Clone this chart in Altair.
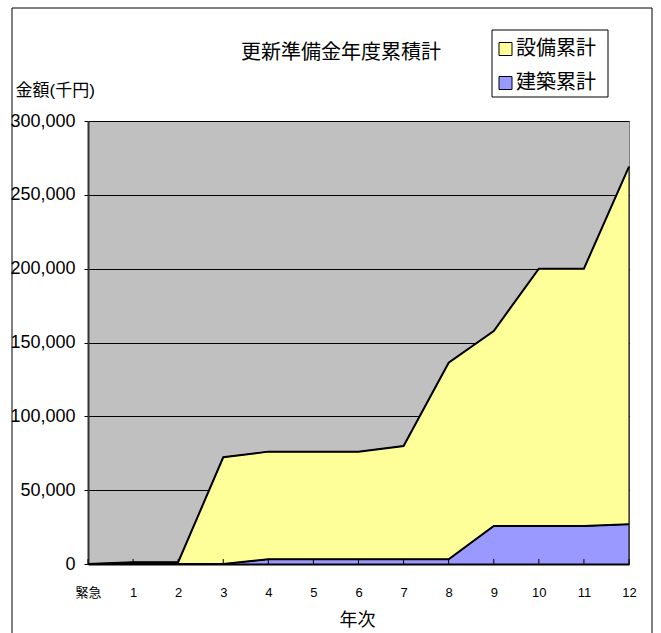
import altair as alt
import pandas as pd

# ---- data ----
categories = ["緊急", "1", "2", "3", "4", "5", "6", "7", "8", "9", "10", "11", "12"]
kenchiku = [0, 0, 0, 0, 3200, 3200, 3200, 3200, 3200, 25700, 25700, 25700, 26900]        # 建築累計
setsubi = [0, 1200, 1200, 72300, 72900, 72900, 72900, 76700, 133100, 132100, 174300, 174300, 242200]  # 設備累計
series_names = ["設備累計", "建築累計"]
series_colors = ["#FFFF99", "#9999FF"]
y_ticks = [0, 50000, 100000, 150000, 200000, 250000, 300000]
title_text = "更新準備金年度累積計"
y_title = "金額(千円)"
x_title = "年次"

rows = []
for i, c in enumerate(categories):
    rows.append({"idx": i, "cat": c, "series": "建築累計", "value": kenchiku[i], "ord": 0,
                 "top": kenchiku[i]})
    rows.append({"idx": i, "cat": c, "series": "設備累計", "value": setsubi[i], "ord": 1,
                 "top": kenchiku[i] + setsubi[i]})
df = pd.DataFrame(rows)
tick_df = pd.DataFrame({"idx": list(range(len(categories)))})
legend_df = pd.DataFrame({"series": series_names})

W, H = 541, 443
LEFT, TOP = 88, 121
CJK = "Noto Sans CJK JP"
MIXED = "Liberation Sans, Noto Sans CJK JP"

label_expr = "datum.value == 0 ? '" + categories[0] + "' : datum.label"

fill_scale = alt.Scale(domain=series_names, range=series_colors)

x_enc = alt.X(
    "idx:Q",
    scale=alt.Scale(domain=[0, len(categories) - 1], nice=False, zero=False),
    axis=alt.Axis(
        values=list(range(len(categories))),
        labelExpr=label_expr,
        labelFont=MIXED,
        labelFontSize=13,
        labelColor="black",
        labelBaseline="middle",
        labelPadding=28,
        labelFlush=False,
        ticks=False,
        tickSize=0,
        grid=False,
        domainColor="black",
        domainWidth=2,
        title=x_title,
        titleFont=CJK,
        titleFontSize=18,
        titleFontWeight="normal",
        titleColor="black",
        titleX=269,
        titleY=56,
        titleAlign="center",
        titleBaseline="middle",
    ),
)

y_scale = alt.Scale(domain=[0, 300000], nice=False)

y_enc = alt.Y(
    "value:Q",
    stack="zero",
    scale=y_scale,
    axis=alt.Axis(
        values=y_ticks,
        format=",d",
        labelFont="Liberation Sans",
        labelFontSize=18,
        labelColor="black",
        labelPadding=9,
        tickSize=4,
        tickColor="black",
        grid=True,
        gridColor="black",
        gridWidth=1,
        domainColor="#333333",
        domainWidth=2,
        title=y_title,
        titleFont=MIXED,
        titleFontSize=17,
        titleFontWeight="normal",
        titleColor="black",
        titleAngle=0,
        titleAlign="left",
        titleBaseline="middle",
        titleX=-73,
        titleY=-31,
    ),
)

area = alt.Chart(df).mark_area(opacity=1, stroke="black", strokeWidth=1).encode(
    x=x_enc,
    y=y_enc,
    fill=alt.Fill("series:N", scale=fill_scale, legend=None),
    order=alt.Order("ord:Q"),
)

outline = alt.Chart(df).mark_line(color="black", strokeWidth=2).encode(
    x=alt.X("idx:Q"),
    y=alt.Y("top:Q", scale=y_scale),
    detail="series:N",
    order=alt.Order("idx:Q"),
)

ticks = alt.Chart(tick_df).mark_rule(color="black", strokeWidth=1).encode(
    x=alt.X("idx:Q"),
    y=alt.value(H - 5),
    y2=alt.value(H),
)

title = alt.Chart(pd.DataFrame({"t": [title_text]})).mark_text(
    font=CJK, fontSize=20, color="black", align="center", baseline="middle"
).encode(
    x=alt.value(341 - LEFT),
    y=alt.value(53 - TOP),
    text="t:N",
)

frame = alt.Chart(pd.DataFrame({"f": [1]})).mark_rect(
    fillOpacity=0, stroke="black", strokeWidth=1
).encode(
    x=alt.value(12 - LEFT),
    x2=alt.value(652 - LEFT),
    y=alt.value(8 - TOP),
    y2=alt.value(660 - TOP),
)

main = alt.layer(frame, area, ticks, outline, title)

# ---- legend (box, swatches, labels) ----
leg_y = alt.Y(
    "series:N",
    scale=alt.Scale(type="point", domain=series_names, range=[49 - TOP, 83 - TOP], padding=0),
    axis=None,
)

leg_box = alt.Chart(pd.DataFrame({"f": [1]})).mark_rect(
    fill="white", stroke="black", strokeWidth=1
).encode(
    x=alt.value(492 - LEFT),
    x2=alt.value(608 - LEFT),
    y=alt.value(30 - TOP),
    y2=alt.value(97 - TOP),
)

leg_sym = alt.Chart(legend_df).mark_square(
    size=169, opacity=1, stroke="black", strokeWidth=1, filled=True
).encode(
    x=alt.value(505.5 - LEFT),
    y=leg_y,
    fill=alt.Fill("series:N", scale=fill_scale, legend=None),
)

leg_txt = alt.Chart(legend_df).mark_text(
    font=CJK, fontSize=20, color="black", align="left", baseline="middle"
).encode(
    x=alt.value(516 - LEFT),
    y=leg_y,
    text="series:N",
)

legend = alt.layer(leg_box, leg_sym, leg_txt)

chart = alt.layer(main, legend).resolve_scale(y="independent").properties(
    width=W,
    height=H,
    autosize=alt.AutoSizeParams(type="none"),
    padding={"left": LEFT, "top": TOP, "right": 661 - LEFT - W, "bottom": 633 - TOP - H},
    background="white",
).configure_view(
    fill="#C0C0C0",
    stroke="#808080",
    strokeWidth=1,
)

chart.save("out.html", embed_options={"renderer": "svg", "actions": False})
